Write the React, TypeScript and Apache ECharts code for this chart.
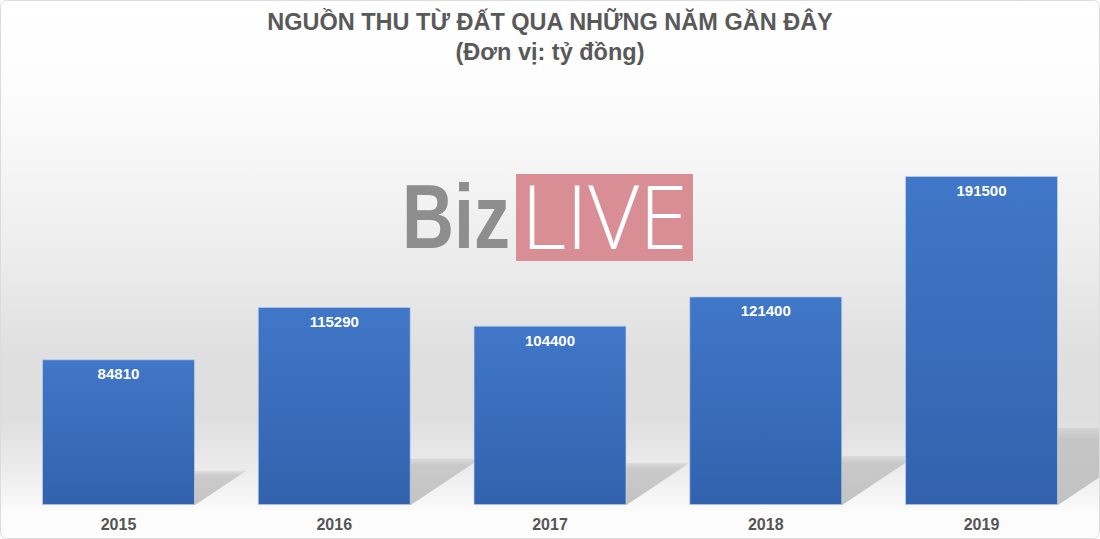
import React, { useEffect, useRef } from "react";
import * as echarts from "echarts";

const categories = ["2015", "2016", "2017", "2018", "2019"];
const revenue = [84810, 115290, 104400, 121400, 191500];
const titleText = "NGUỒN THU TỪ ĐẤT QUA NHỮNG NĂM GẦN ĐÂY";
const subtitleText = "(Đơn vị: tỷ đồng)";

const BAR_RATIO = 0.709;

export default function App() {
  const ref = useRef<HTMLDivElement>(null);
  useEffect(() => {
    if (!ref.current) return;
    const chart = echarts.init(ref.current, undefined, { renderer: "svg" });
    const titleStyle = {
      fontFamily: "Liberation Sans, Arial, sans-serif",
      fontSize: 23.5,
      fontWeight: "bold",
      color: "#595959",
    };
    const option: any = {
      animation: false,
      backgroundColor: "#ffffff",
      title: [
        { text: titleText, left: "center", top: 10, padding: 0, textStyle: titleStyle },
        { text: subtitleText, left: "center", top: 40, padding: 0, textStyle: titleStyle },
      ],
      graphic: [
        {
          type: "rect",
          z: -10,
          silent: true,
          shape: { x: 0, y: 0, width: 1100, height: 539 },
          style: {
            fill: {
              type: "linear",
              x: 0, y: 0, x2: 0, y2: 1,
              colorStops: [
                { offset: 0, color: "#ffffff" },
                { offset: 0.14, color: "#fdfdfd" },
                { offset: 0.3, color: "#f6f6f6" },
                { offset: 0.5, color: "#ebebeb" },
                { offset: 0.66, color: "#dfdfdf" },
                { offset: 0.78, color: "#dfdfdf" },
                { offset: 0.87, color: "#ececec" },
                { offset: 0.93, color: "#f7f7f7" },
                { offset: 0.95, color: "#fcfcfc" },
                { offset: 1, color: "#fdfdfd" },
              ],
            },
          },
        },
        {
          type: "rect",
          z: 100,
          silent: true,
          shape: { x: 0.5, y: 0.5, width: 1099, height: 538, r: 6 },
          style: { fill: "none", stroke: "#dcdcdc", lineWidth: 1 },
        },
        {
          type: "text",
          z: 1,
          silent: true,
          x: 402,
          y: 172,
          scaleX: 0.8,
          style: {
            text: "Biz",
            fontFamily: "Liberation Sans, Arial, sans-serif",
            fontWeight: "bold",
            fontSize: 90,
            fill: "#8e8e8e",
          },
        },
        {
          type: "rect",
          z: 1,
          silent: true,
          shape: { x: 516, y: 174, width: 177, height: 87 },
          style: { fill: "#d98e96" },
        },
        {
          type: "text",
          z: 2,
          silent: true,
          left: 521,
          top: 171,
          style: {
            text: "LIVE",
            fontFamily: "Open Sans, DejaVu Sans, sans-serif",
            fontWeight: 300,
            fontSize: 88,
            fill: "#ffffff",
          },
        },
      ],
      grid: { left: 10.6, right: 10.6, top: 176, bottom: 34 },
      xAxis: {
        type: "category",
        data: categories,
        axisLine: { show: false },
        axisTick: { show: false },
        axisLabel: {
          margin: 11,
          fontFamily: "Liberation Sans, Arial, sans-serif",
          fontSize: 16,
          fontWeight: "bold",
          color: "#555555",
        },
      },
      yAxis: {
        type: "value",
        min: 0,
        max: 191500,
        show: false,
        splitLine: { show: false },
      },
      series: [
        {
          type: "custom",
          z: 1,
          silent: true,
          data: revenue.map((v, i) => [i, v]),
          renderItem: (params: any, api: any) => {
            const idx = api.value(0);
            const val = api.value(1);
            const base = api.coord([idx, 0]);
            const top = api.coord([idx, val]);
            const band = api.size([1, 0])[0];
            const half = (band * BAR_RATIO) / 2;
            const h = base[1] - top[1];
            const dy = h * 0.235;
            const dx = dy * 1.5;
            const xl = base[0] - half;
            const xr = base[0] + half;
            const by = base[1];
            return {
              type: "polygon",
              shape: {
                points: [
                  [xl, by],
                  [xr, by],
                  [xr + dx, by - dy],
                  [xl + dx, by - dy],
                ],
              },
              style: {
                fill: {
                  type: "linear",
                  x: 0, y: 0, x2: 0, y2: 1,
                  colorStops: [
                    { offset: 0, color: "rgba(160,160,160,0.2)" },
                    { offset: 0.15, color: "rgba(160,160,160,0.45)" },
                    { offset: 1, color: "rgba(150,150,150,0.55)" },
                  ],
                },
              },
            };
          },
        },
        {
          type: "bar",
          z: 3,
          data: revenue,
          barWidth: (BAR_RATIO * 100).toFixed(1) + "%",
          itemStyle: {
            borderColor: "rgba(190,210,240,0.7)",
            borderWidth: 1,
            color: {
              type: "linear",
              x: 0, y: 0, x2: 0, y2: 1,
              colorStops: [
                { offset: 0, color: "#4177c8" },
                { offset: 1, color: "#3262ad" },
              ],
            },
          },
          label: {
            show: true,
            position: "insideTop",
            distance: 7,
            fontFamily: "Liberation Sans, Arial, sans-serif",
            fontSize: 15,
            fontWeight: "bold",
            color: "#ffffff",
          },
        },
      ],
    };
    chart.setOption(option);
    return () => chart.dispose();
  }, []);
  return (
    <div
      ref={ref}
      style={{ position: "fixed", left: 0, top: 0, width: 1100, height: 539 }}
    />
  );
}
